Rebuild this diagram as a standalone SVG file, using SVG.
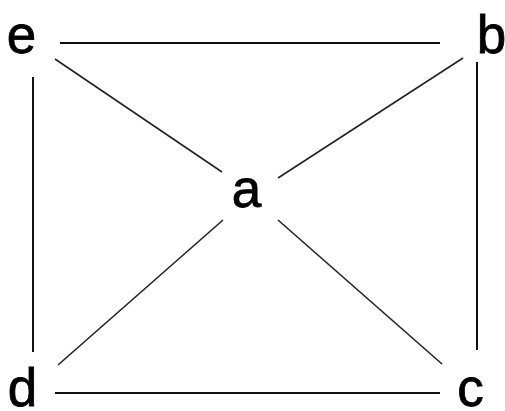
<svg xmlns="http://www.w3.org/2000/svg" width="505" height="411" viewBox="0 0 505 411">
<style>
.lbl{font-family:"Liberation Sans",Arial,sans-serif;font-size:53px;fill:#000;stroke:#000;stroke-width:0.8;text-anchor:middle}
.edge{stroke:#111;stroke-width:2;fill:none}
.diag{stroke:#222;stroke-width:1.6;fill:none}
</style>
<rect width="505" height="411" fill="#fff"/>
<g id="connectors">
<line class="edge" x1="60" y1="43" x2="440" y2="43"/>
<line class="edge" x1="33" y1="77" x2="33" y2="352"/>
<line class="edge" x1="477" y1="62" x2="477" y2="350"/>
<line class="edge" x1="55" y1="393" x2="440" y2="393"/>
<line class="diag" x1="55" y1="59" x2="222" y2="172"/>
<line class="diag" x1="463" y1="58" x2="278" y2="178"/>
<line class="diag" x1="58" y1="365" x2="223" y2="220"/>
<line class="diag" x1="442" y1="364" x2="278" y2="220"/>
</g>
<g id="node-e"><text class="lbl" x="21.5" y="53">e</text></g>
<g id="node-b"><text class="lbl" x="491.5" y="53">b</text></g>
<g id="node-a"><text class="lbl" x="246.5" y="207">a</text></g>
<g id="node-d"><text class="lbl" x="22.5" y="406">d</text></g>
<g id="node-c"><text class="lbl" x="470.5" y="406">c</text></g>
</svg>
